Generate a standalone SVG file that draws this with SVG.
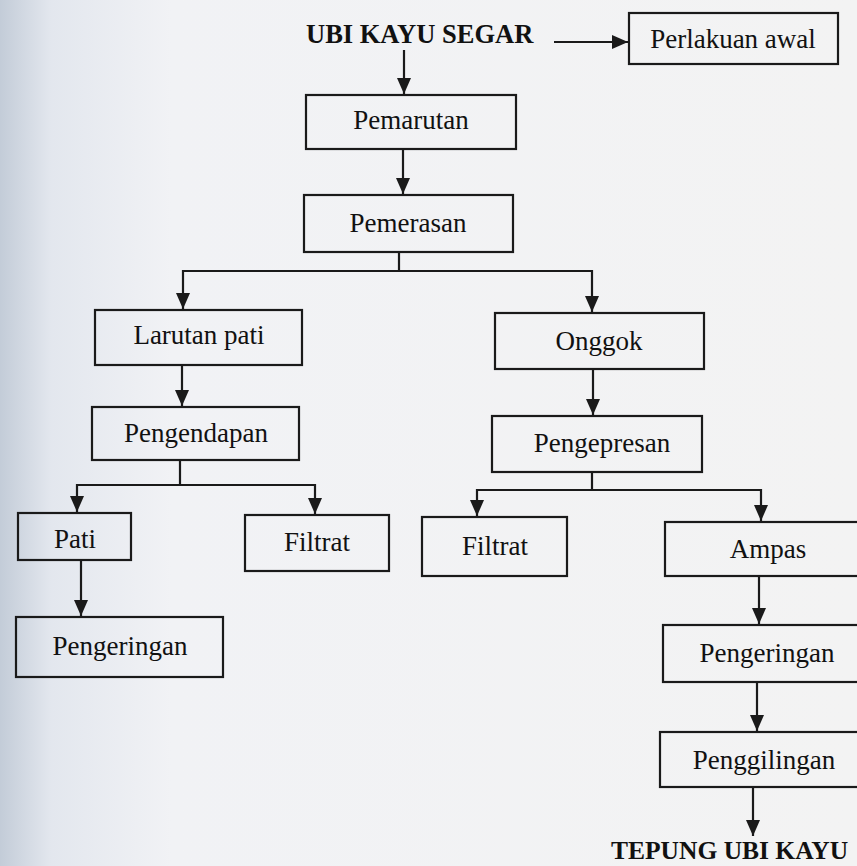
<svg xmlns="http://www.w3.org/2000/svg" width="857" height="866" viewBox="0 0 857 866">
<defs>
<linearGradient id="bg" x1="0" y1="0" x2="1" y2="0">
<stop offset="0" stop-color="#c3ccd8"/>
<stop offset="0.06" stop-color="#e3e7ee"/>
<stop offset="0.2" stop-color="#f1f2f5"/>
<stop offset="1" stop-color="#f3f3f3"/>
</linearGradient>
<marker id="ah" viewBox="0 -10 20 20" refX="16" refY="0" markerWidth="20" markerHeight="20" markerUnits="userSpaceOnUse" orient="auto">
<path d="M0,-7 L16,0 L0,7 z" fill="#1a1a1a"/>
</marker>
</defs>
<style>
.box{fill:none;stroke:#1a1a1a;stroke-width:2.2}
.t{font-family:"Liberation Serif","Times New Roman",serif;font-size:27px;fill:#111;text-anchor:middle}
.b{font-family:"Liberation Serif","Times New Roman",serif;font-size:26.5px;font-weight:bold;fill:#111}
.c{fill:none;stroke:#1a1a1a;stroke-width:2.2}
</style>
<rect x="0" y="0" width="857" height="866" fill="url(#bg)"/>
<g id="ubi-kayu-segar"><text class="b" x="306" y="43">UBI KAYU SEGAR</text></g>
<g id="perlakuan-awal"><rect class="box" x="629" y="13" width="209" height="51"/><text class="t" x="733" y="48">Perlakuan awal</text></g>
<g id="pemarutan"><rect class="box" x="306" y="95" width="210" height="54"/><text class="t" x="411" y="129">Pemarutan</text></g>
<g id="pemerasan"><rect class="box" x="304" y="195" width="209" height="57"/><text class="t" x="408" y="232">Pemerasan</text></g>
<g id="larutan-pati"><rect class="box" x="95" y="310" width="207" height="55"/><text class="t" x="199" y="344">Larutan pati</text></g>
<g id="onggok"><rect class="box" x="495" y="313" width="209" height="56"/><text class="t" x="599" y="350">Onggok</text></g>
<g id="pengendapan"><rect class="box" x="92" y="407" width="207" height="53"/><text class="t" x="196" y="442">Pengendapan</text></g>
<g id="pengepresan"><rect class="box" x="492" y="416" width="210" height="56"/><text class="t" x="602" y="452">Pengepresan</text></g>
<g id="pati"><rect class="box" x="18" y="513" width="113" height="47"/><text class="t" x="75" y="548">Pati</text></g>
<g id="filtrat-1"><rect class="box" x="245" y="515" width="144" height="56"/><text class="t" x="317" y="551">Filtrat</text></g>
<g id="filtrat-2"><rect class="box" x="422" y="517" width="145" height="59"/><text class="t" x="495" y="555">Filtrat</text></g>
<g id="ampas"><rect class="box" x="665" y="522" width="205" height="54"/><text class="t" x="768" y="558">Ampas</text></g>
<g id="pengeringan-1"><rect class="box" x="16" y="617" width="207" height="60"/><text class="t" x="120" y="655">Pengeringan</text></g>
<g id="pengeringan-2"><rect class="box" x="663" y="625" width="207" height="57"/><text class="t" x="767" y="662">Pengeringan</text></g>
<g id="penggilingan"><rect class="box" x="660" y="732" width="210" height="55"/><text class="t" x="764" y="769">Penggilingan</text></g>
<g id="tepung-ubi-kayu"><text class="b" x="611" y="859" style="font-size:25.5px">TEPUNG UBI KAYU</text></g>
<g id="connectors">
<path class="c" d="M554,42 H628" marker-end="url(#ah)"/>
<path class="c" d="M404,50 V94" marker-end="url(#ah)"/>
<path class="c" d="M403,149 V194" marker-end="url(#ah)"/>
<path class="c" d="M399,252 V271 H183 V309" marker-end="url(#ah)"/>
<path class="c" d="M399,271 H592 V312" marker-end="url(#ah)"/>
<path class="c" d="M182,365 V406" marker-end="url(#ah)"/>
<path class="c" d="M180,460 V485 H77 V512" marker-end="url(#ah)"/>
<path class="c" d="M180,485 H315 V514" marker-end="url(#ah)"/>
<path class="c" d="M81,560 V616" marker-end="url(#ah)"/>
<path class="c" d="M593,369 V415" marker-end="url(#ah)"/>
<path class="c" d="M592,472 V490 H477 V516" marker-end="url(#ah)"/>
<path class="c" d="M592,490 H761 V521" marker-end="url(#ah)"/>
<path class="c" d="M759,576 V624" marker-end="url(#ah)"/>
<path class="c" d="M757,682 V731" marker-end="url(#ah)"/>
<path class="c" d="M753,787 V836" marker-end="url(#ah)"/>
</g>
</svg>
